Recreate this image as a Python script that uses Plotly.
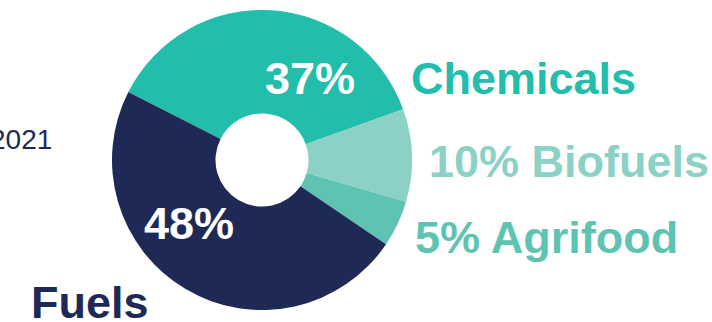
import plotly.graph_objects as go

# Share of use by sector
sectors = ["Chemicals", "Biofuels", "Agrifood", "Fuels"]
shares = [37, 10, 5, 48]
colors = ["#23BDAB", "#8CD1C6", "#5EC4B1", "#1E2A55"]
year_label = "2021"

W, H = 712, 322


def px(x, y):
    """Pixel position -> paper coordinates."""
    return x / W, 1 - y / H


fig = go.Figure(
    go.Pie(
        labels=sectors,
        values=shares,
        sort=False,
        direction="clockwise",
        rotation=-63,
        hole=0.31,
        marker=dict(colors=colors, line=dict(width=0)),
        textinfo="none",
        hoverinfo="label+percent",
        domain=dict(x=[112 / W, 412 / W], y=[1 - 310 / H, 1 - 10 / H]),
        showlegend=False,
    )
)

bold = "Liberation Sans, Arial, sans-serif"
ann = []


def label(text, x, y, color, size=45, xanchor="left", family=bold, weight="bold"):
    ax, ay = px(x, y)
    ann.append(
        dict(
            text=text,
            x=ax,
            y=ay,
            xref="paper",
            yref="paper",
            xanchor=xanchor,
            yanchor="middle",
            showarrow=False,
            font=dict(family=family, size=size, color=color, weight=weight),
        )
    )


s = dict(zip(sectors, shares))
c = dict(zip(sectors, colors))

# values inside the ring
label(f"{s['Chemicals']}%", 310, 79, "white", xanchor="center")
label(f"{s['Fuels']}%", 189, 223, "white", xanchor="center")

# outer category labels
label("Chemicals", 409, 79, c["Chemicals"])
label(f"{s['Biofuels']}% Biofuels", 427, 162, c["Biofuels"])
label(f"{s['Agrifood']}% Agrifood", 413, 237, c["Agrifood"])
label("Fuels", 29, 302, c["Fuels"])

# year text at the left edge
label(year_label, 54, 139, "#1E2A55", size=28, xanchor="right", weight="normal")

fig.update_layout(
    width=W,
    height=H,
    margin=dict(l=0, r=0, t=0, b=0),
    paper_bgcolor="white",
    plot_bgcolor="white",
    annotations=ann,
)

fig.write_html("out.html")
